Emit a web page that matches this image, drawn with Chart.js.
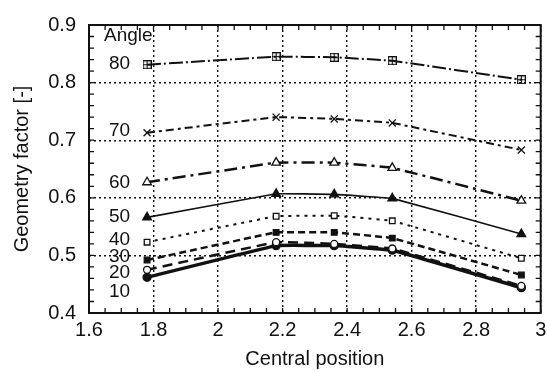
<!DOCTYPE html>
<html>
<head>
<meta charset="utf-8">
<script src="https://cdn.jsdelivr.net/npm/chart.js@4"></script>
<style>
  html, body { margin: 0; padding: 0; background: #fff; }
  #wrap { width: 547px; height: 371px; }
</style>
</head>
<body>
<div id="wrap"><canvas id="geomChart"></canvas></div>
<script>
// central positions and geometry factor per angle
const positions = [1.78, 2.18, 2.36, 2.54, 2.94];
const angles = ["80", "70", "60", "50", "40", "30", "20", "10"];
const g80 = [0.831, 0.845, 0.844, 0.838, 0.805];
const g70 = [0.713, 0.740, 0.737, 0.730, 0.683];
const g60 = [0.627, 0.661, 0.661, 0.652, 0.595];
const g50 = [0.566, 0.607, 0.606, 0.599, 0.537];
const g40 = [0.523, 0.568, 0.569, 0.560, 0.495];
const g30 = [0.492, 0.540, 0.540, 0.530, 0.466];
const g20 = [0.475, 0.523, 0.520, 0.512, 0.447];
const g10 = [0.462, 0.517, 0.517, 0.509, 0.444];
// where the angle names sit on the y axis
const labelAt = [0.832, 0.717, 0.626, 0.567, 0.527, 0.498, 0.469, 0.436];
const yTicks = [0.4, 0.5, 0.6, 0.7, 0.8, 0.9];
const xTicks = [1.6, 1.8, 2, 2.2, 2.4, 2.6, 2.8, 3];

const INK = "#111";
const FONT = "'Liberation Sans', Arial, sans-serif";

// square with a plus inside
function boxPlus(size) {
  const c = document.createElement("canvas");
  c.width = size; c.height = size;
  const g = c.getContext("2d");
  g.strokeStyle = INK;
  g.lineWidth = 1.2;
  g.strokeRect(0.6, 0.6, size - 1.2, size - 1.2);
  g.beginPath();
  g.moveTo(size / 2, 1); g.lineTo(size / 2, size - 1);
  g.moveTo(1, size / 2); g.lineTo(size - 1, size / 2);
  g.stroke();
  return c;
}

const styles = [
  { vals: g80, dash: [14, 3, 2, 3], width: 2, point: boxPlus(9), radius: 4, fill: false },
  { vals: g70, dash: [8, 4, 3, 4], width: 2, point: "crossRot", radius: 5, fill: false },
  { vals: g60, dash: [13, 5, 3, 5], width: 2.5, point: "triangle", radius: 5, fill: false },
  { vals: g50, dash: [], width: 1.6, point: "triangle", radius: 5, fill: true },
  { vals: g40, dash: [3, 5], width: 2, point: "rect", radius: 4, fill: false },
  { vals: g30, dash: [7, 4], width: 2.5, point: "rect", radius: 4, fill: true },
  { vals: g20, dash: [10, 6], width: 2.5, point: "circle", radius: 3.5, fill: false },
  { vals: g10, dash: [], width: 3.5, point: "circle", radius: 4, fill: true },
];

const datasets = styles.map((s, i) => ({
  label: angles[i],
  data: positions.map((x, j) => ({ x: x, y: s.vals[j] })),
  showLine: true,
  borderColor: INK,
  borderWidth: s.width,
  borderDash: s.dash,
  tension: 0.05,
  pointStyle: s.point,
  pointRadius: s.radius,
  pointBorderWidth: 1.3,
  pointBorderColor: INK,
  pointBackgroundColor: s.fill ? INK : "#fff",
}));

// frame, inward minor ticks and the angle names
const framePlugin = {
  id: "frame",
  afterDatasetsDraw(chart) {
    const { ctx, chartArea: a, scales: { x, y } } = chart;
    ctx.save();
    ctx.strokeStyle = INK;
    ctx.lineWidth = 1.3;
    ctx.beginPath();
    for (let v = 1.6; v <= 3.001; v += 0.05) {
      const px = x.getPixelForValue(v);
      ctx.moveTo(px, a.bottom); ctx.lineTo(px, a.bottom - 5);
      ctx.moveTo(px, a.top); ctx.lineTo(px, a.top + 5);
    }
    for (let v = 0.4; v <= 0.901; v += 0.02) {
      const py = y.getPixelForValue(v);
      ctx.moveTo(a.left, py); ctx.lineTo(a.left + 5, py);
      ctx.moveTo(a.right, py); ctx.lineTo(a.right - 5, py);
    }
    ctx.stroke();
    ctx.lineWidth = 2;
    ctx.strokeRect(a.left, a.top, a.right - a.left, a.bottom - a.top);

    ctx.fillStyle = INK;
    ctx.font = "19px " + FONT;
    ctx.textBaseline = "middle";
    ctx.textAlign = "left";
    ctx.fillText("Angle", a.left + 15, a.top + 11);
    ctx.textAlign = "right";
    const lx = x.getPixelForValue(positions[0]) - 17;
    angles.forEach((name, i) => {
      ctx.fillText(name, lx, y.getPixelForValue(labelAt[i]));
    });
    ctx.restore();
  },
};

new Chart(document.getElementById("geomChart"), {
  type: "scatter",
  data: { datasets: datasets },
  options: {
    responsive: true,
    maintainAspectRatio: false,
    animation: false,
    layout: { padding: { top: 20, right: 3, left: 0, bottom: 0 } },
    plugins: {
      legend: { display: false },
      tooltip: { enabled: false },
    },
    scales: {
      x: {
        type: "linear",
        min: 1.6,
        max: 3,
        afterBuildTicks: (s) => { s.ticks = xTicks.map((v) => ({ value: v })); },
        afterFit: (s) => {
          s.height = 58;
          // let the last label run to the canvas edge
          s.paddingRight = 0;
          s.paddingLeft = 0;
        },
        ticks: {
          color: INK,
          padding: 5,
          font: { family: FONT, size: 20 },
          callback: (v) => String(Number(v.toFixed(1))),
          maxRotation: 0,
        },
        grid: { color: INK, lineWidth: 1.4, drawTicks: false },
        border: { display: false, dash: [2, 3] },
        title: {
          display: true,
          text: "Central position",
          color: INK,
          font: { family: FONT, size: 20 },
          padding: { top: 0, bottom: 0 },
        },
      },
      y: {
        min: 0.4,
        max: 0.9,
        afterBuildTicks: (s) => { s.ticks = yTicks.map((v) => ({ value: v })); },
        afterFit: (s) => { s.width = 89; },
        ticks: {
          color: INK,
          padding: 13,
          font: { family: FONT, size: 20 },
          callback: (v) => v.toFixed(1),
        },
        grid: { color: INK, lineWidth: 1.4, drawTicks: false },
        border: { display: false, dash: [2, 3] },
        title: {
          display: true,
          text: "Geometry factor [-]",
          color: INK,
          font: { family: FONT, size: 20 },
          padding: { top: 10, bottom: 0 },
        },
      },
    },
  },
  plugins: [framePlugin],
});
</script>
</body>
</html>
